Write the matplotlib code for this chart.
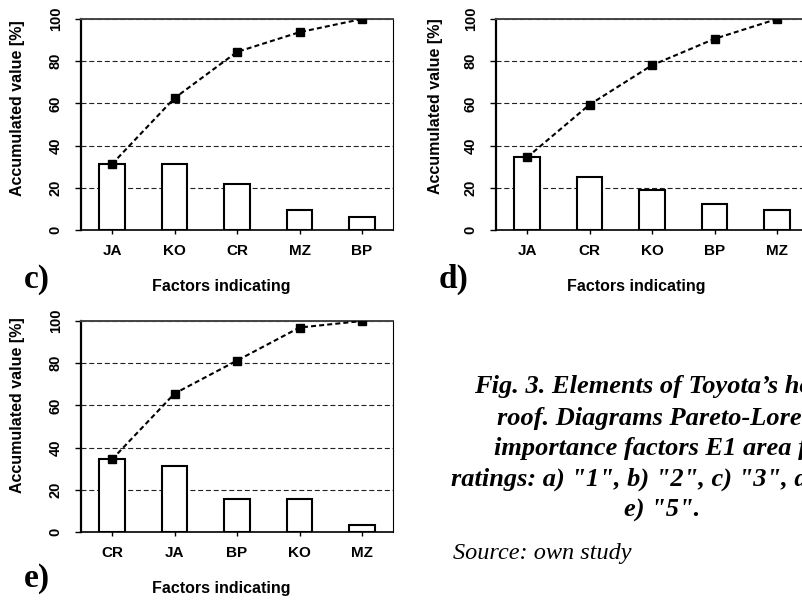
import matplotlib
matplotlib.use("Agg")
import matplotlib.pyplot as plt

# ---- data ----
cats_c = ["JA", "KO", "CR", "MZ", "BP"]
vals_c = [31.25, 31.25, 21.9, 9.4, 6.25]
cum_c = [31.25, 62.5, 84.4, 93.75, 100.0]

cats_d = ["JA", "CR", "KO", "BP", "MZ"]
vals_d = [34.4, 25.0, 18.75, 12.5, 9.4]
cum_d = [34.4, 59.4, 78.1, 90.6, 100.0]

cats_e = ["CR", "JA", "BP", "KO", "MZ"]
vals_e = [34.4, 31.25, 15.6, 15.6, 3.1]
cum_e = [34.4, 65.6, 81.25, 96.9, 100.0]

yticks = [0, 20, 40, 60, 80, 100]
ylabel = "Accumulated value [%]"
xlabel = "Factors indicating"
caption_lines = [
    "Fig. 3. Elements of Toyota\u2019s house",
    "roof. Diagrams Pareto-Lorenz",
    "importance factors E1 area for",
    'ratings: a) "1", b) "2", c) "3", d) "4",',
    'e) "5".',
]
source_text = "Source: own study"

W, H = 802, 600
fig = plt.figure(figsize=(W / 100, H / 100), dpi=100)
SANS = "Liberation Sans"
SERIF = "Liberation Serif"


def px_axes(left, top, right, bottom):
    return fig.add_axes([left / W, 1 - bottom / H, (right - left) / W, (bottom - top) / H])


def draw(ax, cats, vals, cum, ylab_x, ylab_y):
    ax.set_axisbelow(True)
    ax.yaxis.grid(True, linestyle=(0, (4.5, 2.5)), color="#222222", lw=0.8)
    ax.bar(cats, vals, width=0.41, color="white", edgecolor="black", lw=1.5, zorder=2)
    ax.plot(cats, cum, linestyle=(0, (2.4, 1.5)), color="black", lw=1.5,
            marker="s", markersize=5.5, markerfacecolor="black", zorder=3)
    ax.set_xlim(-0.5, 4.5)
    ax.set_ylim(0, 100)
    ax.set_yticks(yticks)
    ax.set_yticklabels([str(t) for t in yticks], rotation=90, va="center",
                       fontfamily=SANS, fontweight="bold", fontsize=10.5)
    for lab in ax.get_xticklabels():
        lab.set_fontfamily(SANS)
        lab.set_fontweight("bold")
        lab.set_fontsize(11)
    ax.tick_params(axis="y", direction="out", length=4, width=1, pad=9)
    ax.tick_params(axis="x", direction="inout", length=6, width=1, pad=7)
    ax.spines["left"].set_linewidth(1.6)
    ax.spines["bottom"].set_linewidth(1.2)
    ax.spines["right"].set_linewidth(0.8)
    ax.spines["top"].set_color("#444444")
    ax.spines["top"].set_linewidth(1.4)
    ax.set_ylabel(ylabel, fontfamily=SANS, fontweight="bold", fontsize=11.5)
    ax.yaxis.set_label_coords(ylab_x, ylab_y)
    ax.set_xlabel(xlabel, fontfamily=SANS, fontweight="bold", fontsize=11.5)
    ax.xaxis.set_label_coords(0.45, -0.232)


ax_c = px_axes(80.75, 19, 393.25, 230)
draw(ax_c, cats_c, vals_c, cum_c, -0.178, 0.578)
ax_d = px_axes(495.75, 19, 808.25, 230)
draw(ax_d, cats_d, vals_d, cum_d, -0.169, 0.585)
ax_e = px_axes(80.75, 321, 393.25, 532)
draw(ax_e, cats_e, vals_e, cum_e, -0.178, 0.60)

for lbl, x, y in [("c)", 24, 279), ("d)", 439, 279), ("e)", 24, 579)]:
    fig.text(x / W, 1 - y / H, lbl, fontfamily=SERIF, fontweight="bold",
             fontsize=24, ha="left", va="center")

for line, y in zip(caption_lines, [386, 418, 448, 479, 510]):
    fig.text(662 / W, 1 - y / H, line, fontfamily=SERIF, fontweight="bold",
             fontstyle="italic", fontsize=19, ha="center", va="center")

fig.text(453 / W, 1 - 553 / H, source_text, fontfamily=SERIF, fontstyle="italic",
         fontsize=17.5, ha="left", va="center")

fig.savefig("out.png", dpi=100)
